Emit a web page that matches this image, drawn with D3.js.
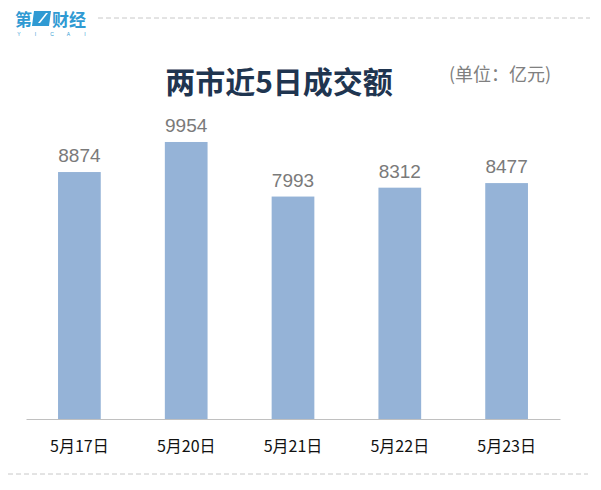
<!DOCTYPE html>
<html><head><meta charset="utf-8">
<script src="https://cdn.jsdelivr.net/npm/d3@7"></script>
<style>body{margin:0;background:#fff}svg{display:block}</style>
</head><body>
<svg id="c" width="601" height="490"></svg>
<script>
const categories = ["5月17日","5月20日","5月21日","5月22日","5月23日"];
const values = [8874, 9954, 7993, 8312, 8477];
const title = "两市近5日成交额";
const unit = "(单位：亿元)";
const logoLetters = ["Y","I","C","A","I"];

const svg = d3.select("#c");
const W = 601, H = 490;
svg.append("rect").attr("width",W).attr("height",H).attr("fill","#fff");

// logo
const logo = svg.append("g").attr("fill","#2f9ad3");
logo.append("text").attr("x",15).attr("y",26).attr("font-family","Noto Sans CJK SC").attr("font-weight",700).attr("font-size",17).text("第");
logo.append("path").attr("d","M34,11 L51,11 L49,26 L32,26 Z");
logo.append("path").attr("d","M38,23 L46,13 L48,13 L40,23 Z").attr("fill","#fff");
logo.append("text").attr("x",52).attr("y",26).attr("font-family","Noto Sans CJK SC").attr("font-weight",700).attr("font-size",17).text("财经");
logo.selectAll("text.l").data(logoLetters).join("text").attr("class","l")
  .attr("x",(d,i)=>19+i*16.5).attr("y",35.5).attr("text-anchor","middle")
  .attr("font-family","Liberation Sans").attr("font-size",5).text(d=>d);

// dashed lines
svg.append("line").attr("x1",98).attr("x2",590).attr("y1",18).attr("y2",18)
  .attr("stroke","#c8c8c8").attr("stroke-width",1).attr("stroke-dasharray","5,3");
svg.append("line").attr("x1",8).attr("x2",588).attr("y1",474).attr("y2",474)
  .attr("stroke","#c8c8c8").attr("stroke-width",1).attr("stroke-dasharray","5,3");

// title
svg.append("text").attr("x",279).attr("y",93).attr("text-anchor","middle")
  .attr("font-family","Noto Sans CJK SC").attr("font-weight",700).attr("font-size",30)
  .attr("fill","#1f3550").text(title);
svg.append("text").attr("x",500).attr("y",81).attr("text-anchor","middle")
  .attr("font-family","Noto Sans CJK SC").attr("font-size",18)
  .attr("fill","#808080").text(unit);

const x = d3.scaleBand().domain(categories).range([26,560]).paddingInner(0.6).paddingOuter(0.3);
const y = d3.scaleLinear().domain([0, 10000]).range([419, 419 - 10000*0.02783]);

svg.selectAll("rect.bar").data(values).join("rect").attr("class","bar")
  .attr("x",(d,i)=>x(categories[i])).attr("width",x.bandwidth())
  .attr("y",d=>y(d)).attr("height",d=>y(0)-y(d)).attr("fill","#95b3d7");

svg.selectAll("text.val").data(values).join("text").attr("class","val")
  .attr("x",(d,i)=>x(categories[i])+x.bandwidth()/2).attr("y",d=>y(d)-10)
  .attr("text-anchor","middle").attr("font-family","Liberation Sans, Arial")
  .attr("font-size",19).attr("fill","#7a7a7a").text(d=>d);

const ax = svg.append("g").attr("transform","translate(0,419)")
  .call(d3.axisBottom(x).tickSize(0).tickPadding(0));
ax.select(".domain").attr("stroke","#c0c0c0").attr("d","M26.5,0.5H560.5");
ax.selectAll(".tick text").attr("dy",0).attr("y",33)
  .attr("font-family","Noto Sans CJK SC").attr("font-size",16).attr("fill","#111");
</script>
</body></html>
